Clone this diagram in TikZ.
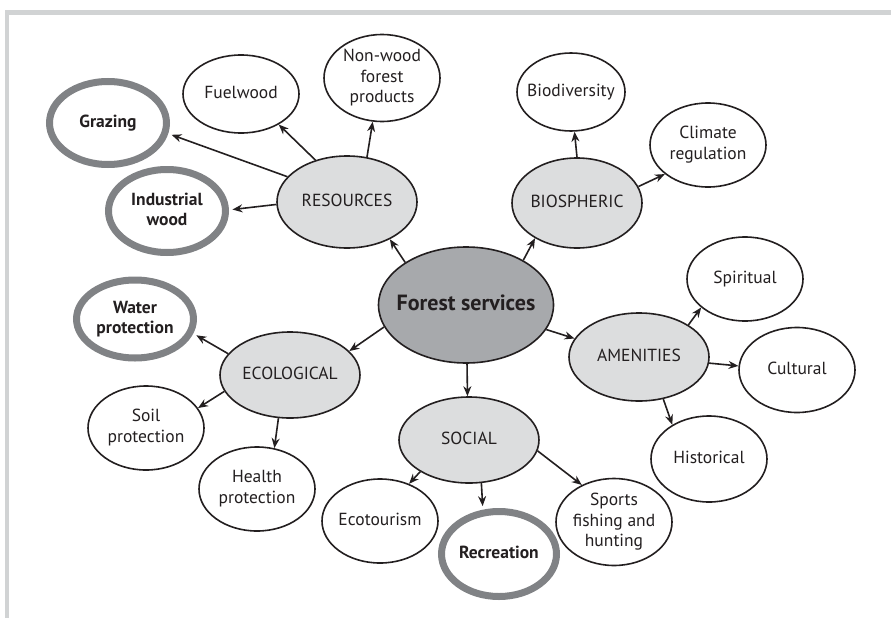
\documentclass[tikz,border=0pt]{standalone}
\usepackage{fontspec}
\setmainfont{PT Sans}
\usetikzlibrary{shapes.geometric,arrows.meta}
\definecolor{ink}{HTML}{231F20}
\definecolor{framec}{HTML}{D1D3D4}
\definecolor{corec}{HTML}{A7A9AC}
\definecolor{catc}{HTML}{DCDDDE}
\definecolor{ringc}{HTML}{808285}
\newcommand\zb[1]{\makebox[0pt]{\begin{tabular}{@{}c@{}}#1\end{tabular}}}
\begin{document}
\begin{tikzpicture}[x=1pt,y=-1pt,
  base/.style={ellipse, inner sep=0pt, text=ink, font=\fontsize{17.5}{20.5}\selectfont},
  sz/.style 2 args={minimum width=#1pt, minimum height=#2pt},
  leaf/.style={base, draw=ink, line width=1.6pt, fill=white},
  keyleaf/.style={base, draw=ringc, line width=7pt, fill=white, font=\fontsize{17.5}{20}\selectfont\bfseries},
  cat/.style={base, draw=ink, line width=1.6pt, fill=catc},
  hub/.style={base, draw=ink, line width=1.6pt, fill=corec, font=\fontsize{22}{26}\selectfont\bfseries},
  arr/.style={draw=ink, line width=1.6pt, -{Stealth[length=10pt,width=8pt]}},
  arrk/.style={arr, shorten >=3.5pt}]
\useasboundingbox (0,0) rectangle (891,618);
\draw[framec, line width=4.5pt] (7,618) -- (7,12.5) -- (891,12.5);

% hub
\node[hub, sz={175}{116}] (hub) at (466,305) {\zb{Forest services}};
% categories
\node[cat, sz={140}{92}] (res) at (347,202) {\zb{RESOURCES}};
\node[cat, sz={130}{90}] (bio) at (577,203) {\zb{BIOSPHERIC}};
\node[cat, sz={140}{88}] (amen) at (639,357) {\zb{AMENITIES}};
\node[cat, sz={140}{86}] (eco) at (290,375) {\zb{ECOLOGICAL}};
\node[cat, sz={140}{86}] (soc) at (469,440) {\zb{SOCIAL}};
% leaves
\node[keyleaf, sz={117}{83}] (graz) at (108,123) {\zb{Grazing}};
\node[keyleaf, sz={117}{83}] (ind) at (167,211) {\zb{Industrial\\wood}};
\node[leaf, sz={116}{78}] (fuel) at (241,94) {\zb{Fuelwood}};
\node[leaf, sz={116}{82}] (nonw) at (382,78) {\zb{Non-wood\\forest\\products}};
\node[leaf, sz={108}{78}] (biod) at (571,92) {\zb{Biodiversity}};
\node[leaf, sz={116}{84}] (clim) at (708,145) {\zb{Climate\\regulation}};
\node[leaf, sz={116}{84}] (spir) at (745,279) {\zb{Spiritual}};
\node[leaf, sz={116}{85}] (cult) at (797,370) {\zb{Cultural}};
\node[leaf, sz={116}{86}] (hist) at (709,459) {\zb{Historical}};
\node[keyleaf, sz={117}{78}] (water) at (135,319) {\zb{Water\\protection}};
\node[leaf, sz={116}{84}] (soil) at (146,428) {\zb{Soil\\protection}};
\node[leaf, sz={116}{84}] (health) at (257,489) {\zb{Health\\protection}};
\node[leaf, sz={116}{84}] (ecot) at (380,521) {\zb{Ecotourism}};
\node[keyleaf, sz={115}{85}] (rec) at (499,554) {\zb{Recreation}};
\node[leaf, sz={116}{86}] (sports) at (614,522) {\zb{Sports\\fishing and\\hunting}};

% connectors
\draw[arr] (hub.145) -- (res.-41);
\draw[arr] (hub.38) -- (bio.220);
\draw[arr] (hub.195) -- (eco.22);
\draw[arr] (hub.-17) -- (amen.164);
\draw[arr] (hub.-89) -- (soc.92);
\draw[arrk] (res.157) -- (graz.-10);
\draw[arr] (res.127) -- (fuel.-39);
\draw[arrk] (res.182) -- (ind.1);
\draw[arr] (res.66) -- (nonw.-102);
\draw[arr] (bio.90) -- (biod.-85);
\draw[arr] (bio.15) -- (clim.-146);
\draw[arr] (amen.33) -- (spir.-147);
\draw[arr] (amen.-5) -- (cult.176);
\draw[arr] (amen.-60) -- (hist.137);
\draw[arrk] (eco.161) -- (water.-14);
\draw[arr] (eco.194) -- (soil.21);
\draw[arr] (eco.-105) -- (health.67);
\draw[arr] (soc.213) -- (ecot.52);
\draw[arrk] (soc.-74) -- (rec.110);
\draw[arr] (soc.-9) -- (sports.131);
\end{tikzpicture}
\end{document}
